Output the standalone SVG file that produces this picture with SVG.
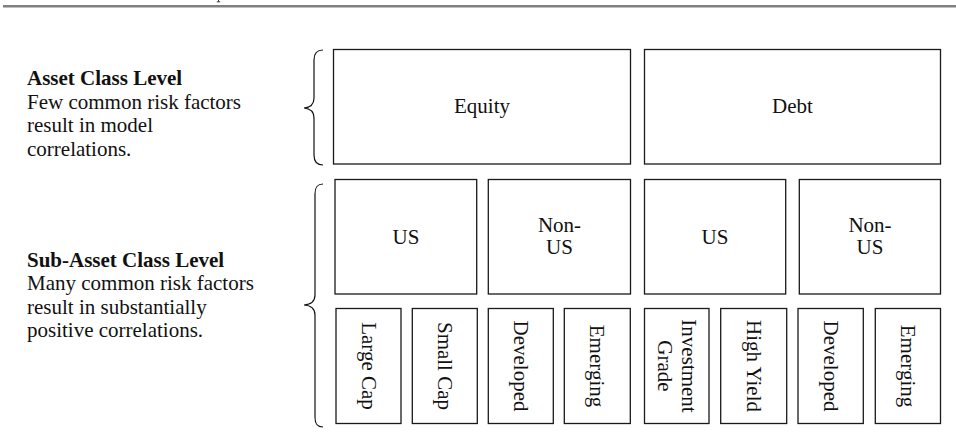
<svg xmlns="http://www.w3.org/2000/svg" width="956" height="445" viewBox="0 0 956 445">
  <style>
    .box { fill: #ffffff; stroke: #1a1a1a; stroke-width: 1.3; }
    .lbl { font-family: "Liberation Serif", "Times New Roman", serif; font-size: 21px; fill: #111111; }
    .mid { text-anchor: middle; }
    .bold { font-weight: bold; }
    .brace { fill: none; stroke: #111111; stroke-width: 1.2; }
  </style>

  <!-- header rule -->
  <rect x="3" y="5" width="953" height="2.5" fill="#808080"/>
  <path d="M218.5,0 V1.6 M216.8,1.8 H220.2" stroke="#222" stroke-width="0.9" fill="none"/>

  <!-- level descriptions -->
  <g id="asset-class-level">
    <text class="lbl bold" x="27" y="85">Asset Class Level</text>
    <text class="lbl" x="27" y="108.5">Few common risk factors</text>
    <text class="lbl" x="27" y="132">result in model</text>
    <text class="lbl" x="27" y="155.5">correlations.</text>
  </g>
  <g id="sub-asset-class-level">
    <text class="lbl bold" x="27" y="266.5">Sub-Asset Class Level</text>
    <text class="lbl" x="27" y="290">Many common risk factors</text>
    <text class="lbl" x="27" y="313.5">result in substantially</text>
    <text class="lbl" x="27" y="337">positive correlations.</text>
  </g>

  <!-- braces grouping the two levels -->
  <g id="braces">
    <path class="brace" d="M323,50 C317,50 314,53 314,60 L314,98 C314,104 310,107.5 304,108 C310,108.5 314,112 314,118 L314,155 C314,162 317,165 323,165"/>
    <path class="brace" d="M323,184 C317,184 315,187 315,194 L315,295 C315,301 311,304.5 304,305 C311,305.5 315,309 315,315 L315,417 C315,424 317,427 323,427"/>
  </g>

  <!-- asset classes -->
  <g id="equity">
    <rect class="box" x="333.5" y="49.5" width="297" height="114.5"/>
    <text class="lbl mid" x="482" y="113">Equity</text>
  </g>
  <g id="debt">
    <rect class="box" x="644.5" y="49.5" width="296" height="114.5"/>
    <text class="lbl mid" x="792.5" y="113">Debt</text>
  </g>

  <!-- regions -->
  <g id="equity-us">
    <rect class="box" x="335" y="179.5" width="141.7" height="114.5"/>
    <text class="lbl mid" x="406" y="243.5">US</text>
  </g>
  <g id="equity-non-us">
    <rect class="box" x="488.3" y="179.5" width="142.2" height="114.5"/>
    <text class="lbl mid" x="559.5" y="232">Non-</text>
    <text class="lbl mid" x="559.5" y="254">US</text>
  </g>
  <g id="debt-us">
    <rect class="box" x="644.5" y="179.5" width="141.2" height="114.5"/>
    <text class="lbl mid" x="715" y="243.5">US</text>
  </g>
  <g id="debt-non-us">
    <rect class="box" x="799.3" y="179.5" width="141.2" height="114.5"/>
    <text class="lbl mid" x="870" y="232">Non-</text>
    <text class="lbl mid" x="870" y="254">US</text>
  </g>

  <!-- sub-asset classes, labels read top to bottom -->
  <g id="large-cap">
    <rect class="box" x="336" y="308.5" width="65" height="115"/>
    <text class="lbl mid" transform="translate(368.5,366) rotate(90)" y="7">Large Cap</text>
  </g>
  <g id="small-cap">
    <rect class="box" x="412.3" y="308.5" width="65" height="115"/>
    <text class="lbl mid" transform="translate(444.8,366) rotate(90)" y="7">Small Cap</text>
  </g>
  <g id="equity-developed">
    <rect class="box" x="488.3" y="308.5" width="65" height="115"/>
    <text class="lbl mid" transform="translate(520.8,366) rotate(90)" y="7">Developed</text>
  </g>
  <g id="equity-emerging">
    <rect class="box" x="564.3" y="308.5" width="66" height="115"/>
    <text class="lbl mid" transform="translate(597.3,366) rotate(90)" y="7">Emerging</text>
  </g>
  <g id="investment-grade">
    <rect class="box" x="644.5" y="308.5" width="64.5" height="115"/>
    <text class="lbl mid" transform="translate(676.8,366) rotate(90)" y="-5.5">Investment</text>
    <text class="lbl mid" transform="translate(676.8,366) rotate(90)" y="19">Grade</text>
  </g>
  <g id="high-yield">
    <rect class="box" x="720.7" y="308.5" width="66" height="115"/>
    <text class="lbl mid" transform="translate(753.7,366) rotate(90)" y="7">High Yield</text>
  </g>
  <g id="debt-developed">
    <rect class="box" x="798" y="308.5" width="65.3" height="115"/>
    <text class="lbl mid" transform="translate(830.6,366) rotate(90)" y="7">Developed</text>
  </g>
  <g id="debt-emerging">
    <rect class="box" x="875.3" y="308.5" width="65.2" height="115"/>
    <text class="lbl mid" transform="translate(907.9,366) rotate(90)" y="7">Emerging</text>
  </g>

  <!-- no connectors between nodes; hierarchy is shown by stacking -->
  <g id="connectors"/>
</svg>
